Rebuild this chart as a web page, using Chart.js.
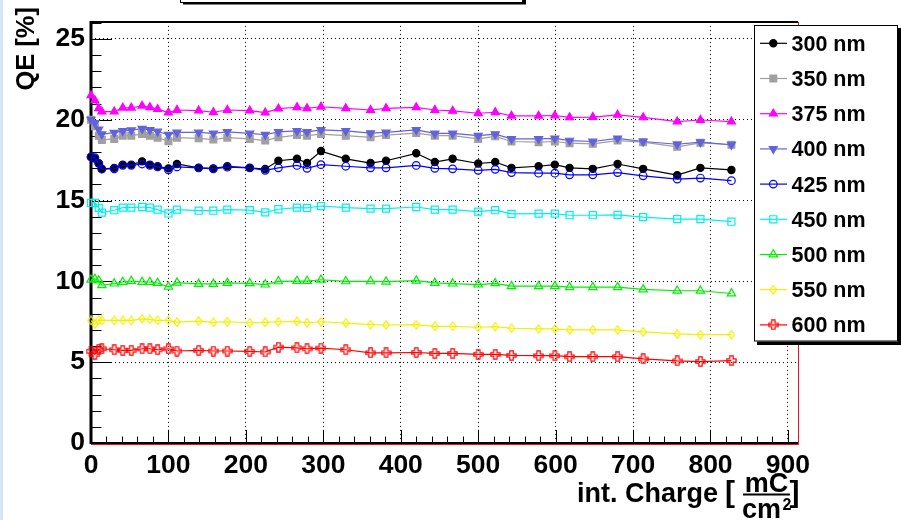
<!DOCTYPE html>
<html><head><meta charset="utf-8">
<script src="https://cdn.jsdelivr.net/npm/chart.js@4/dist/chart.umd.min.js"></script>
<style>
html,body{margin:0;padding:0;background:#fff;}
#wrap{position:relative;width:901px;height:520px;overflow:hidden;}
canvas{display:block;}
</style></head><body>
<div id="wrap"><canvas id="c" width="901" height="520"></canvas></div>
<script>
// ---- data ----
const charge = [0,5,10,14,30,41,52,66,76,86,100,111,139,158,176,205,225,242,266,279,297,329,361,381,420,444,467,500,522,543,578,599,618,648,680,713,757,787,827];
const qe300 = [17.7,17.6,17.3,16.95,17.02,17.22,17.22,17.42,17.22,17.12,16.99,17.26,17.02,16.99,17.12,17.02,16.95,17.46,17.58,17.32,18.06,17.58,17.32,17.46,17.92,17.38,17.58,17.29,17.38,17.02,17.12,17.22,17.02,16.96,17.26,16.96,16.57,17.02,16.89];
const qe350 = [20.0,19.6,19.0,18.75,18.81,19.01,19.01,19.11,19.01,18.89,18.67,18.89,18.85,18.77,18.89,18.81,18.71,18.91,19.05,19.01,19.11,19.01,18.91,19.05,19.17,19.01,19.01,18.81,18.97,18.65,18.61,18.65,18.55,18.51,18.71,18.61,18.32,18.57,18.45];
const qe375 = [21.5,21.2,20.7,20.5,20.5,20.74,20.74,20.86,20.77,20.65,20.44,20.6,20.56,20.46,20.6,20.56,20.44,20.68,20.77,20.7,20.8,20.7,20.6,20.7,20.76,20.6,20.54,20.4,20.46,20.24,20.24,20.26,20.14,20.16,20.3,20.14,19.88,19.98,19.88];
const qe400 = [20.0,19.8,19.4,19.1,19.2,19.31,19.35,19.45,19.37,19.27,19.07,19.21,19.21,19.15,19.25,19.15,19.07,19.25,19.31,19.25,19.37,19.31,19.17,19.21,19.37,19.15,19.15,19.01,19.11,18.81,18.81,18.85,18.71,18.65,18.85,18.65,18.48,18.61,18.45];
const qe425 = [17.7,17.65,17.3,16.95,16.96,17.18,17.18,17.26,17.18,17.08,16.9,17.08,17.02,16.96,17.06,17.02,16.87,17.02,17.17,16.99,17.22,17.12,17.02,17.02,17.17,16.99,16.96,16.87,16.93,16.73,16.69,16.69,16.59,16.59,16.73,16.53,16.33,16.39,16.23];
const qe450 = [14.85,14.85,14.55,14.25,14.4,14.56,14.56,14.6,14.56,14.44,14.2,14.44,14.37,14.37,14.44,14.4,14.27,14.46,14.56,14.54,14.66,14.56,14.5,14.5,14.6,14.44,14.44,14.31,14.4,14.17,14.19,14.19,14.09,14.09,14.11,13.97,13.85,13.85,13.69];
const qe500 = [10.1,10.15,10.05,9.76,9.86,9.96,10.02,9.96,9.96,9.9,9.66,9.92,9.84,9.84,9.9,9.88,9.8,10.0,10.02,10.02,10.1,10.0,10.0,9.98,10.04,9.9,9.86,9.8,9.88,9.7,9.7,9.7,9.64,9.64,9.64,9.5,9.42,9.42,9.25];
const qe550 = [7.58,7.35,7.6,7.58,7.58,7.58,7.58,7.68,7.64,7.58,7.58,7.48,7.54,7.46,7.5,7.44,7.46,7.5,7.52,7.44,7.5,7.42,7.32,7.3,7.32,7.22,7.22,7.16,7.2,7.1,7.06,7.06,7.0,7.0,7.0,6.87,6.75,6.71,6.71];
const qe600 = [5.67,5.48,5.79,5.83,5.77,5.73,5.73,5.83,5.83,5.77,5.83,5.69,5.73,5.69,5.69,5.67,5.63,5.93,5.89,5.83,5.87,5.77,5.58,5.58,5.6,5.54,5.54,5.48,5.48,5.42,5.4,5.4,5.34,5.34,5.34,5.2,5.08,5.04,5.1];
const seriesNames = ['300 nm','350 nm','375 nm','400 nm','425 nm','450 nm','500 nm','550 nm','600 nm'];
const xTickValues = [0,100,200,300,400,500,600,700,800,900];
const yTickValues = [0,5,10,15,20,25];

// ---- styles ----
const FONT = '"Liberation Sans", Arial, Helvetica, sans-serif';
function diamondCanvas(color){
  const c=document.createElement('canvas'); c.width=8; c.height=10;
  const g=c.getContext('2d'); g.strokeStyle=color; g.lineWidth=1.2;
  g.beginPath(); g.moveTo(4,0.8); g.lineTo(7.2,5); g.lineTo(4,9.2); g.lineTo(0.8,5); g.closePath(); g.stroke();
  return c;
}
function crossCanvas(color){
  const c=document.createElement('canvas'); c.width=11; c.height=11;
  const g=c.getContext('2d'); g.strokeStyle=color; g.lineWidth=1.2;
  const m=5.5,a=1.7,r=4.6;
  g.beginPath();
  g.moveTo(m-a,m-r); g.lineTo(m+a,m-r); g.lineTo(m+a,m-a); g.lineTo(m+r,m-a); g.lineTo(m+r,m+a);
  g.lineTo(m+a,m+a); g.lineTo(m+a,m+r); g.lineTo(m-a,m+r); g.lineTo(m-a,m+a); g.lineTo(m-r,m+a);
  g.lineTo(m-r,m-a); g.lineTo(m-a,m-a); g.closePath(); g.stroke();
  return c;
}
const styles = [
  {color:'#000000', fill:'#000000', pointStyle:'circle', radius:3.6, rotation:0},
  {color:'#a0a0a0', fill:'#a0a0a0', pointStyle:'rect', radius:4.8, rotation:0},
  {color:'#ff00ff', fill:'#ff00ff', pointStyle:'triangle', radius:4.6, rotation:0},
  {color:'#6262dc', fill:'#6262dc', pointStyle:'triangle', radius:4.6, rotation:180},
  {color:'#0000ff', fill:'rgba(0,0,0,0)', pointStyle:'circle', radius:3.8, rotation:0},
  {color:'#00f0f0', fill:'rgba(0,0,0,0)', pointStyle:'rect', radius:5, rotation:0},
  {color:'#00ee00', fill:'rgba(0,0,0,0)', pointStyle:'triangle', radius:4.8, rotation:0},
  {color:'#f0f000', fill:'rgba(0,0,0,0)', pointStyle:diamondCanvas('#f0f000'), radius:4.5, rotation:0},
  {color:'#ff0000', fill:'rgba(0,0,0,0)', pointStyle:crossCanvas('#ff0000'), radius:4.5, rotation:0}
];
const seriesValues = [qe300,qe350,qe375,qe400,qe425,qe450,qe500,qe550,qe600];

const datasets = seriesValues.map((vals,i)=>({
  label: seriesNames[i],
  data: charge.map((x,k)=>({x:x, y:vals[k]})),
  showLine: true,
  borderColor: styles[i].color,
  borderWidth: 1.2,
  pointBackgroundColor: styles[i].fill,
  pointBorderColor: styles[i].color,
  pointBorderWidth: 1.2,
  pointStyle: styles[i].pointStyle,
  pointRadius: styles[i].radius,
  pointRotation: styles[i].rotation,
  tension: 0,
  clip: false,
  order: 9 - i
}));

function drawMarker(ctx, st, x, y){
  ctx.save();
  ctx.fillStyle = st.fill; ctx.strokeStyle = st.color; ctx.lineWidth = 1.2;
  if (Chart.helpers && Chart.helpers.drawPoint) {
    Chart.helpers.drawPoint(ctx, {pointStyle: st.pointStyle, radius: st.radius, rotation: st.rotation, borderWidth: 1.2}, x, y);
  } else {
    ctx.beginPath(); ctx.arc(x,y,st.radius,0,Math.PI*2); ctx.fill(); ctx.stroke();
  }
  ctx.restore();
}

const rootLook = {
  id: 'rootLook',
  beforeDraw(chart){
    const ctx = chart.ctx;
    ctx.save();
    ctx.fillStyle = '#ffffff'; ctx.fillRect(0,0,chart.width,chart.height);
    ctx.fillStyle = '#d8e5f6'; ctx.fillRect(0,0,3,chart.height);
    ctx.restore();
  },
  beforeDatasetsDraw(chart){
    const ctx = chart.ctx, a = chart.chartArea, xs = chart.scales.x, ys = chart.scales.y;
    ctx.save();
    ctx.strokeStyle = '#e8141e'; ctx.lineWidth = 1;
    ctx.beginPath(); ctx.moveTo(a.right+0.5, a.top); ctx.lineTo(a.right+0.5, a.bottom+1.5); ctx.lineTo(a.left, a.bottom+1.5); ctx.stroke();
    ctx.strokeStyle = '#000'; ctx.lineWidth = 2;
    ctx.beginPath(); ctx.moveTo(a.left, a.top); ctx.lineTo(a.right, a.top); ctx.stroke();
    ctx.lineWidth = 3;
    ctx.beginPath(); ctx.moveTo(a.left, a.top-1); ctx.lineTo(a.left, a.bottom+1); ctx.stroke();
    ctx.lineWidth = 2;
    ctx.beginPath(); ctx.moveTo(a.left, a.bottom); ctx.lineTo(a.right, a.bottom); ctx.stroke();
    ctx.lineWidth = 1;
    ctx.beginPath();
    for (let v = 0; v <= ys.max; v += 1) {
      const py = Math.round(ys.getPixelForValue(v)) + 0.5;
      const len = (v % 5 === 0) ? 21 : 10.5;
      ctx.moveTo(a.left, py); ctx.lineTo(a.left + len, py);
    }
    for (let v = 0; v <= xs.max; v += 20) {
      const px = Math.round(xs.getPixelForValue(v)) + 0.5;
      const len = (v % 100 === 0) ? 13 : 6.5;
      ctx.moveTo(px, a.bottom); ctx.lineTo(px, a.bottom - len);
    }
    ctx.stroke();
    ctx.restore();
  },
  afterDraw(chart){
    const ctx = chart.ctx;
    ctx.save();
    ctx.fillStyle = '#000'; ctx.fillRect(183, 0, 343, 4.5);
    ctx.fillStyle = '#fff'; ctx.fillRect(180, -5, 343, 7);
    ctx.strokeStyle = '#000'; ctx.lineWidth = 1; ctx.strokeRect(180.5, -5, 342, 7.5);

    ctx.fillStyle = '#000'; ctx.fillRect(757, 28, 144, 317);
    ctx.fillStyle = '#fff'; ctx.fillRect(754, 25, 144, 316.5);
    ctx.strokeStyle = '#000'; ctx.lineWidth = 1; ctx.strokeRect(754.5, 25.5, 143, 315.5);
    ctx.font = 'bold 21.5px ' + FONT; ctx.textAlign = 'left'; ctx.textBaseline = 'alphabetic';
    chart.data.datasets.forEach((ds, i) => {
      const cy = 43.3 + i * 35.2;
      ctx.strokeStyle = styles[i].color; ctx.lineWidth = 1.2;
      ctx.beginPath(); ctx.moveTo(760, cy); ctx.lineTo(787, cy); ctx.stroke();
      drawMarker(ctx, styles[i], 773.3, cy);
      ctx.fillStyle = '#000'; ctx.fillText(ds.label, 791.5, cy + 7.5);
    });

    ctx.save();
    ctx.translate(34, 7); ctx.rotate(-Math.PI/2);
    ctx.font = 'bold 25.5px ' + FONT; ctx.textAlign = 'right'; ctx.textBaseline = 'alphabetic'; ctx.fillStyle = '#000';
    ctx.fillText('QE [%]', 0, 0);
    ctx.restore();

    ctx.fillStyle = '#000'; ctx.textBaseline = 'alphabetic'; ctx.textAlign = 'left';
    ctx.font = 'bold 27px ' + FONT;
    ctx.fillText('int. Charge', 577, 502);
    ctx.font = 'bold 30px ' + FONT;
    ctx.fillText('[', 725, 502);
    ctx.font = 'bold 27px ' + FONT; ctx.textAlign = 'center';
    ctx.fillText('mC', 766.5, 491.5);
    ctx.fillRect(743, 493.5, 47, 2);
    ctx.textAlign = 'left';
    ctx.fillText('cm', 742, 518);
    ctx.font = 'bold 16px ' + FONT;
    ctx.fillText('2', 782.5, 509.5);
    ctx.font = 'bold 30px ' + FONT;
    ctx.fillText(']', 789.5, 502);
    ctx.restore();
  }
};

const tickFont = {family: FONT, size: 26.5, weight: 'bold'};
new Chart(document.getElementById('c'), {
  type: 'scatter',
  data: { datasets },
  options: {
    responsive: false, animation: false, devicePixelRatio: 1,
    layout: { padding: { left: 0, top: 5, right: 103, bottom: 0 } },
    plugins: { legend: { display: false }, tooltip: { enabled: false }, title: { display: false } },
    scales: {
      x: {
        type: 'linear', min: 0, max: 913,
        afterBuildTicks: s => { s.ticks = xTickValues.map(v => ({value: v})); },
        afterFit: s => { s.height = 77; },
        ticks: { font: tickFont, color: '#000', padding: 7, autoSkip: false, maxRotation: 0, callback: v => String(v) },
        grid: { color: '#000', lineWidth: 1, drawTicks: false },
        border: { display: false, dash: [1, 3] }
      },
      y: {
        type: 'linear', min: 0, max: 26.05,
        afterBuildTicks: s => { s.ticks = yTickValues.map(v => ({value: v})); },
        afterFit: s => { s.width = 91; },
        ticks: { font: tickFont, color: '#000', padding: 6, autoSkip: false, callback: v => String(v) },
        grid: { color: '#000', lineWidth: 1, drawTicks: false },
        border: { display: false, dash: [1, 3] }
      }
    }
  },
  plugins: [rootLook]
});
</script>
</body></html>
